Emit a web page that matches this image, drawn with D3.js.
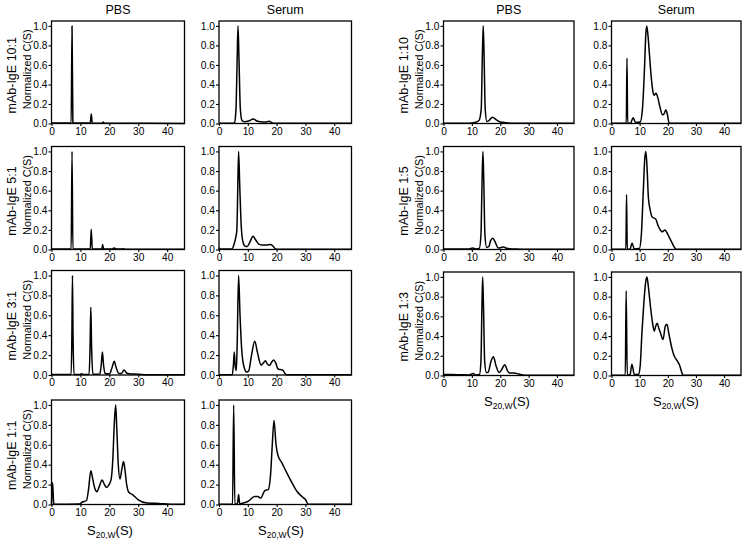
<!DOCTYPE html>
<html><head><meta charset="utf-8">
<script src="https://cdn.jsdelivr.net/npm/d3@7"></script>
<style>
body{margin:0;background:#fff}
text{font-family:"Liberation Sans",Arial,Helvetica,sans-serif;fill:#000}
</style>
</head><body>
<svg id="chart" width="748" height="544"></svg>
<script>
// ---------- data (sedimentation coefficient s, normalized c(s)) ----------
const columnTitles = ["PBS", "Serum", "PBS", "Serum"];
const rowLabelsLeft = ["mAb-IgE 10:1", "mAb-IgE 5:1", "mAb-IgE 3:1", "mAb-IgE 1:1"];
const rowLabelsRight = ["mAb-IgE 1:10", "mAb-IgE 1:5", "mAb-IgE 1:3"];
const xTicks = [0, 10, 20, 30, 40];
const yTicks = [0, 0.2, 0.4, 0.6, 0.8, 1.0];

const pbs_10_1 = [[0,0.004],[6.8,0.004],[7.1,1.0],[7.4,0.01],[7.8,0.004],[13.4,0.004],[13.75,0.097],[14.1,0.004],[17.5,0.003],[17.9,0.015],[18.3,0.003],[22,0.002],[46,0.001]];
const serum_10_1 = [[0,0.003],[4.8,0.003],[5.4,0.01],[5.9,0.15],[6.3,0.65],[6.6,1.0],[6.95,0.65],[7.4,0.15],[8.0,0.03],[8.8,0.018],[10.3,0.025],[11.9,0.047],[13.2,0.025],[14.5,0.017],[16,0.015],[17.4,0.022],[18.3,0.01],[19,0.002],[46,0.002]];
const pbs_5_1 = [[0,0.005],[6.8,0.005],[7.1,1.0],[7.4,0.005],[13.4,0.005],[13.75,0.207],[14.1,0.005],[17.4,0.004],[17.7,0.05],[18.0,0.004],[20.9,0.005],[21.6,0.016],[22.4,0.005],[24.2,0.004],[24.8,0.008],[25.6,0.003],[46,0.002]];
const serum_5_1 = [[0,0.02],[0.3,0.005],[4.5,0.005],[5.2,0.05],[5.8,0.12],[6.2,0.2],[6.5,0.6],[6.8,1.0],[7.2,0.65],[7.7,0.25],[8.3,0.08],[9,0.035],[9.8,0.03],[10.8,0.08],[11.8,0.135],[12.7,0.1],[13.8,0.055],[15,0.045],[16.5,0.045],[17.8,0.05],[18.6,0.04],[19.8,0.002],[46,0.002]];
const pbs_3_1 = [[0,0.005],[6.8,0.005],[7.05,0.4],[7.25,1.0],[7.45,0.4],[7.8,0.005],[9.8,0.004],[10.4,0.012],[11,0.004],[13.0,0.005],[13.35,0.3],[13.6,0.68],[13.85,0.3],[14.3,0.008],[16.7,0.01],[17.2,0.1],[17.6,0.232],[18.0,0.1],[18.6,0.015],[20.0,0.01],[20.9,0.07],[21.7,0.137],[22.4,0.07],[23.3,0.015],[24.2,0.015],[25.1,0.05],[26.0,0.02],[27.5,0.01],[30,0.008],[33,0.003],[46,0.002]];
const serum_3_1 = [[0,0.002],[4.6,0.002],[5.0,0.1],[5.3,0.232],[5.6,0.1],[6.0,0.045],[6.3,0.3],[6.8,1.0],[7.3,0.6],[7.9,0.25],[8.7,0.08],[9.6,0.03],[10.3,0.04],[11.3,0.2],[12.4,0.34],[13.4,0.22],[14.6,0.1],[15.4,0.12],[16.1,0.143],[16.8,0.11],[17.5,0.095],[18.3,0.13],[19.0,0.15],[19.7,0.12],[20.5,0.06],[21.3,0.055],[22.1,0.05],[22.8,0.02],[23.3,0.002],[46,0.002]];
const pbs_1_1 = [[0,0.002],[0.35,0.22],[0.8,0.01],[1.3,0.002],[9.6,0.005],[10.7,0.025],[12.1,0.04],[12.8,0.15],[13.6,0.34],[14.3,0.25],[15.0,0.16],[15.7,0.128],[16.5,0.18],[17.5,0.246],[18.3,0.2],[19.1,0.17],[19.9,0.2],[20.6,0.25],[21.2,0.45],[21.7,0.8],[22.2,1.0],[22.6,0.75],[23.1,0.4],[23.7,0.257],[24.3,0.35],[24.9,0.432],[25.4,0.35],[26.0,0.2],[26.8,0.12],[28,0.1],[29.9,0.05],[33,0.015],[36,0.012],[38,0.008],[41,0.003],[46,0.002]];
const serum_1_1 = [[0,0.002],[4.7,0.002],[5.1,1.0],[5.5,0.005],[6.4,0.005],[6.8,0.1],[7.2,0.005],[7.8,0.01],[10.0,0.03],[12.4,0.08],[13.5,0.08],[14.5,0.065],[15.9,0.14],[17.1,0.15],[17.9,0.3],[18.5,0.6],[19.1,0.845],[19.8,0.6],[20.4,0.5],[21.8,0.42],[23.5,0.32],[25.3,0.22],[27.1,0.13],[28.8,0.08],[30.0,0.05],[31.0,0.002],[46,0.002]];

const pbs_1_10 = [[0,0.003],[9,0.003],[11,0.01],[12.5,0.03],[13.3,0.15],[13.7,0.7],[14.0,1.0],[14.3,0.7],[14.7,0.15],[15.3,0.02],[16,0.03],[17.2,0.065],[18.5,0.04],[20,0.015],[22,0.008],[25,0.002],[46,0.002]];
const serum_1_10 = [[0,0.002],[5.25,0.002],[5.5,0.67],[5.75,0.002],[6.8,0.005],[7.7,0.06],[8.5,0.01],[10.2,0.015],[11.0,0.15],[11.7,0.55],[12.2,0.92],[12.5,1.0],[12.9,0.92],[13.5,0.7],[14.1,0.48],[14.7,0.33],[15.2,0.29],[15.8,0.31],[16.4,0.27],[17.2,0.17],[18.1,0.09],[18.7,0.1],[19.3,0.14],[19.8,0.1],[20.5,0.002],[46,0.002]];
const pbs_1_5 = [[0,0.005],[9,0.005],[10.3,0.015],[11.3,0.005],[12.6,0.01],[13.2,0.15],[13.6,0.7],[13.9,1.0],[14.2,0.7],[14.6,0.15],[15.2,0.02],[16,0.03],[16.6,0.09],[17.4,0.115],[18.3,0.07],[19.3,0.015],[20.3,0.02],[21.2,0.025],[22.2,0.012],[24,0.006],[26,0.005],[28,0.002],[46,0.002]];
const serum_1_5 = [[0,0.002],[5.1,0.002],[5.35,0.56],[5.6,0.002],[6.6,0.005],[7.3,0.065],[8.1,0.005],[9.9,0.01],[10.6,0.15],[11.3,0.6],[11.8,0.92],[12.2,1.0],[12.6,0.85],[13.1,0.53],[13.7,0.41],[14.5,0.33],[15.7,0.31],[16.6,0.24],[17.6,0.19],[18.1,0.18],[19.0,0.2],[19.9,0.16],[21.3,0.08],[22.4,0.02],[23.0,0.002],[46,0.002]];
const pbs_1_3 = [[0,0.01],[5,0.008],[9,0.006],[10.5,0.02],[11.3,0.005],[12.7,0.01],[13.2,0.15],[13.55,0.7],[13.8,1.0],[14.1,0.7],[14.5,0.15],[15.1,0.03],[15.7,0.03],[16.7,0.14],[17.6,0.19],[18.5,0.1],[19.6,0.03],[20.5,0.06],[21.6,0.11],[22.5,0.05],[23.3,0.025],[25,0.025],[26.5,0.015],[28,0.006],[30,0.002],[46,0.002]];
const serum_1_3 = [[0,0.002],[4.9,0.002],[5.2,0.86],[5.6,0.002],[6.6,0.01],[7.25,0.115],[8.1,0.01],[9.6,0.012],[10.2,0.1],[10.8,0.43],[11.5,0.74],[12.2,0.96],[12.6,1.0],[13.1,0.9],[13.8,0.71],[14.6,0.53],[15.2,0.45],[15.7,0.5],[16.2,0.53],[16.8,0.48],[17.4,0.43],[18.3,0.365],[19.1,0.5],[19.7,0.52],[20.4,0.42],[21.5,0.27],[22.1,0.21],[23.3,0.15],[24.1,0.11],[25.1,0.02],[25.4,0.002],[46,0.002]];

// ---------- layout ----------
const cols = [{x0:51.5,x1:184.5},{x0:219,x1:351.5},{x0:443.5,x1:574},{x0:611.5,x1:741}];
const rowsLeft = [{y0:21,y1:123.5},{y0:146.5,y1:249.5},{y0:270.5,y1:375},{y0:400,y1:504.5}];
const rowsRight = [{y0:21,y1:123.5},{y0:146.5,y1:249.5},{y0:272,y1:375.5}];

const panels = [
  {d:pbs_10_1,c:0,r:0},{d:serum_10_1,c:1,r:0},
  {d:pbs_5_1,c:0,r:1},{d:serum_5_1,c:1,r:1},
  {d:pbs_3_1,c:0,r:2},{d:serum_3_1,c:1,r:2},
  {d:pbs_1_1,c:0,r:3},{d:serum_1_1,c:1,r:3},
  {d:pbs_1_10,c:2,r:0},{d:serum_1_10,c:3,r:0},
  {d:pbs_1_5,c:2,r:1},{d:serum_1_5,c:3,r:1},
  {d:pbs_1_3,c:2,r:2},{d:serum_1_3,c:3,r:2}
];

const svg = d3.select("#chart");
svg.append("rect").attr("width",748).attr("height",544).attr("fill","#fff");

panels.forEach(p => {
  const col = cols[p.c];
  const row = (p.c < 2 ? rowsLeft : rowsRight)[p.r];
  const x = d3.scaleLinear().domain([0,46]).range([col.x0,col.x1]);
  const y = d3.scaleLinear().domain([0,1.05]).range([row.y1,row.y0]);
  const g = svg.append("g");

  const line = d3.line().x(d=>x(d[0])).y(d=>y(d[1])).curve(d3.curveMonotoneX);
  g.append("path").datum(p.d).attr("d",line)
    .attr("fill","none").attr("stroke","#000").attr("stroke-width",1.5).attr("stroke-linejoin","round");

  g.append("rect").attr("x",col.x0).attr("y",row.y0)
    .attr("width",col.x1-col.x0).attr("height",row.y1-row.y0)
    .attr("fill","none").attr("stroke","#000").attr("stroke-width",1.3);

  const ya = g.append("g").attr("transform",`translate(${col.x0},0)`)
    .call(d3.axisLeft(y).tickValues(yTicks).tickFormat(d3.format(".1f")).tickSize(3).tickPadding(1));
  const xa = g.append("g").attr("transform",`translate(0,${row.y1})`)
    .call(d3.axisBottom(x).tickValues(xTicks).tickSize(2.5).tickPadding(1.5));
  [ya,xa].forEach(a=>{
    a.select(".domain").remove();
    a.selectAll("line").attr("stroke","#000").attr("stroke-width",1.1);
    a.selectAll("text").attr("font-size",10.2).attr("font-family","Liberation Sans, Arial, sans-serif").attr("fill","#000");
  });

  const cy = (row.y0+row.y1)/2;
  if (p.c === 0 || p.c === 2) {
    const lx = p.c === 0 ? 12 : 404;
    const nx = p.c === 0 ? 27 : 419;
    const lab = p.c === 0 ? rowLabelsLeft[p.r] : rowLabelsRight[p.r];
    svg.append("text").attr("transform",`translate(${lx},${cy+3}) rotate(-90)`)
      .attr("text-anchor","middle").attr("dominant-baseline","central")
      .attr("font-size",12.5).text(lab);
    svg.append("text").attr("transform",`translate(${nx},${cy-3}) rotate(-90)`)
      .attr("text-anchor","middle").attr("dominant-baseline","central")
      .attr("font-size",10.8).text("Normalized C(S)");
  }
  if (p.r === 0) {
    svg.append("text").attr("x",(col.x0+col.x1)/2).attr("y",14)
      .attr("text-anchor","middle").attr("font-size",12.5).text(columnTitles[p.c]);
  }
  const last = (p.c < 2 ? 3 : 2);
  if (p.r === last) {
    const tx = [110,281,507,676][p.c];
    const t = svg.append("text").attr("x",tx).attr("y",row.y1+30)
      .attr("text-anchor","middle").attr("font-size",13);
    t.append("tspan").text("S");
    t.append("tspan").attr("font-size",8.5).attr("dy",3).text("20,W");
    t.append("tspan").attr("dy",-3).text("(S)");
  }
});
</script>
</body></html>
